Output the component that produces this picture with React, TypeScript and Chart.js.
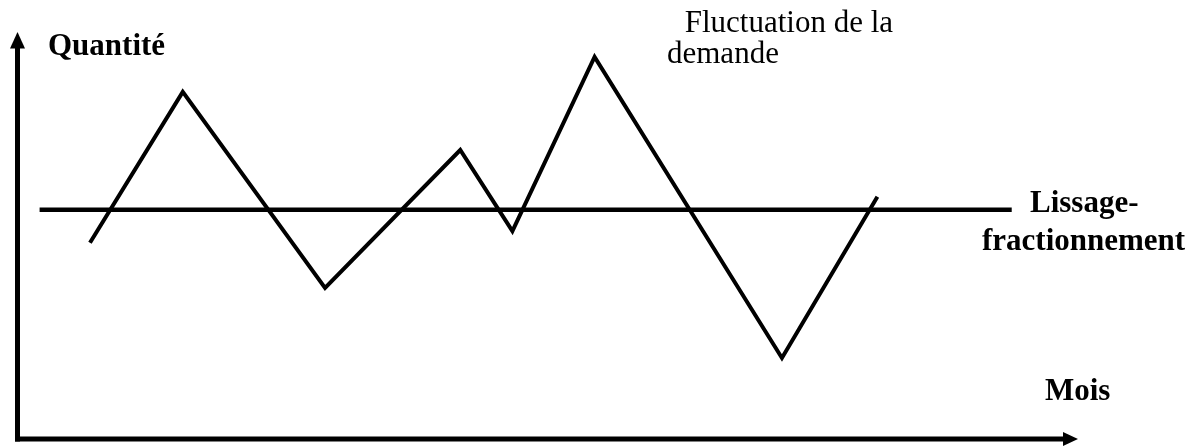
import React, { useEffect, useRef } from "react";
import { Chart, registerables } from "chart.js";

Chart.register(...registerables);

// Months (x) and quantity (y) of the demand fluctuation polyline
const demandMonths = [0.82, 1.87, 3.48, 5.01, 5.6, 6.53, 8.65, 9.73];
const demandQty = [48.2, 85.3, 37.1, 71.0, 51.1, 93.9, 19.9, 59.5];

// Smoothing (lissage) horizontal line
const smoothMonths = [0.25, 11.25];
const smoothQty = [56.3, 56.3];

const yAxisTitle = "Quantité";
const xAxisTitle = "Mois";
const demandLabel = [" Fluctuation de la", "demande"];
const smoothLabel = ["Lissage-", "fractionnement"];

const X_MAX = 12;
const Y_MAX = 100;

const overlayPlugin = {
  id: "overlay",
  afterDraw(chart: any) {
    const ctx = chart.ctx as CanvasRenderingContext2D;
    const { left, right, top, bottom } = chart.chartArea;
    ctx.save();
    ctx.fillStyle = "#000";
    ctx.strokeStyle = "#000";
    ctx.lineWidth = 5;
    ctx.lineCap = "butt";
    // y axis
    ctx.beginPath();
    ctx.moveTo(left, bottom + 2.5);
    ctx.lineTo(left, top + 14);
    ctx.stroke();
    ctx.beginPath();
    ctx.moveTo(left, top);
    ctx.lineTo(left - 7.5, top + 16.5);
    ctx.lineTo(left + 7.5, top + 16.5);
    ctx.closePath();
    ctx.fill();
    // x axis
    ctx.beginPath();
    ctx.moveTo(left - 2.5, bottom);
    ctx.lineTo(right - 12, bottom);
    ctx.stroke();
    ctx.beginPath();
    ctx.moveTo(right, bottom);
    ctx.lineTo(right - 15, bottom - 7);
    ctx.lineTo(right - 15, bottom + 7);
    ctx.closePath();
    ctx.fill();

    // texts
    ctx.textAlign = "left";
    ctx.textBaseline = "alphabetic";
    ctx.font = "bold 31px 'Liberation Serif', 'Times New Roman', serif";
    ctx.fillText(yAxisTitle, 48, 55);
    ctx.fillText(smoothLabel[0], 1030, 212);
    ctx.fillText(smoothLabel[1], 982, 250);
    ctx.fillText(xAxisTitle, 1045, 400);
    ctx.font = "31px 'Liberation Serif', 'Times New Roman', serif";
    ctx.fillText(demandLabel[0], 677, 32);
    ctx.fillText(demandLabel[1], 667, 63);
    ctx.restore();
  },
};

export default function App() {
  const ref = useRef<HTMLCanvasElement>(null);
  useEffect(() => {
    if (!ref.current) return;
    const chart = new Chart(ref.current, {
      type: "line",
      data: {
        datasets: [
          {
            label: demandLabel.join(" ").trim(),
            data: demandMonths.map((m, i) => ({ x: m, y: demandQty[i] })),
            borderColor: "#000",
            borderWidth: 4,
            borderJoinStyle: "miter",
            borderCapStyle: "butt",
            pointRadius: 0,
            tension: 0,
            fill: false,
          },
          {
            label: smoothLabel.join(""),
            data: smoothMonths.map((m, i) => ({ x: m, y: smoothQty[i] })),
            borderColor: "#000",
            borderWidth: 4.5,
            borderCapStyle: "butt",
            pointRadius: 0,
            tension: 0,
            fill: false,
          },
        ],
      },
      options: {
        responsive: false,
        animation: false,
        layout: { padding: { left: 17.5, right: 122, top: 32, bottom: 7 } },
        scales: {
          x: { type: "linear", min: 0, max: X_MAX, display: false },
          y: { type: "linear", min: 0, max: Y_MAX, display: false },
        },
        plugins: { legend: { display: false }, tooltip: { enabled: false } },
      },
      plugins: [overlayPlugin],
    } as any);
    return () => chart.destroy();
  }, []);
  return (
    <div style={{ position: "fixed", left: 0, top: 0, width: 1200, height: 446, background: "#fff" }}>
      <canvas ref={ref} width={1200} height={446} style={{ display: "block" }} />
    </div>
  );
}
